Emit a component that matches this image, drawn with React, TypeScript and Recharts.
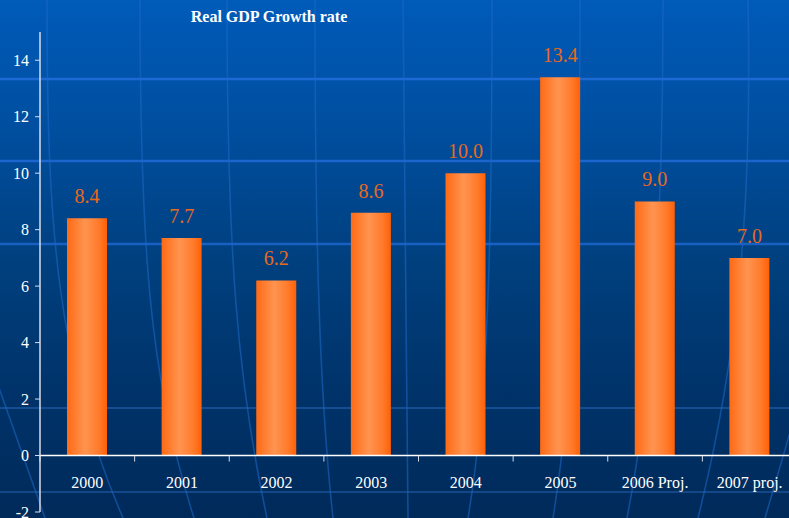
import { Bar, BarChart, LabelList, ReferenceLine, XAxis, YAxis } from "recharts";

const YEARS = ["2000", "2001", "2002", "2003", "2004", "2005", "2006 Proj.", "2007 proj."];
const GROWTH = [8.4, 7.7, 6.2, 8.6, 10.0, 13.4, 9.0, 7.0];
const Y_TICKS = [-2, 0, 2, 4, 6, 8, 10, 12, 14];
const Y_DOMAIN: [number, number] = [-2, 15];

const SERIF = "'Liberation Serif', 'Times New Roman', serif";

// chart geometry (layout only)
const CHART_W = 797;
const CHART_H = 530;
const PLOT_LEFT = 40;
const PLOT_TOP = 32;
const PLOT_BOTTOM = 512;
const X_AXIS_H = 2;
const ZERO_Y = PLOT_TOP + ((PLOT_BOTTOM - PLOT_TOP) * Y_DOMAIN[1]) / (Y_DOMAIN[1] - Y_DOMAIN[0]);
const BAND = (CHART_W - PLOT_LEFT) / YEARS.length;

// decorative backdrop: globe meridians and horizontal bands
const MERIDIANS = [
  "M -25 320 Q 10 420 45 518",
  "M 47 0 C 47 220, 55 360, 123 518",
  "M 140 0 C 140 250, 150 380, 194 518",
  "M 227 0 C 227 250, 237 380, 267 518",
  "M 315 0 C 315 250, 320 400, 333 518",
  "M 403 0 L 408 518",
  "M 492 0 C 492 250, 488 400, 468 518",
  "M 580 0 C 580 250, 572 400, 553 518",
  "M 663 0 C 663 250, 650 400, 627 518",
  "M 748 0 C 752 200, 740 350, 698 518",
  "M 830 290 Q 800 400 765 518",
];
const BANDS = [
  { y: 79, c: "#1c6bd4", w: 2.5 },
  { y: 161, c: "#1a66cc", w: 2.5 },
  { y: 244, c: "#1860c2", w: 2.5 },
  { y: 408, c: "#134d92", w: 2 },
  { y: 492, c: "#124888", w: 2 },
];

const data = YEARS.map((year, i) => ({ year, value: GROWTH[i] }));

function YearTick({ x, payload }: any) {
  return (
    <g>
      <line x1={x - BAND / 2} y1={ZERO_Y} x2={x - BAND / 2} y2={ZERO_Y + 6} stroke="#d8dde8" strokeWidth={1} />
      <text x={x} y={ZERO_Y + 32} textAnchor="middle" fill="#ffffff" fontSize={16} fontFamily={SERIF}>
        {payload.value}
      </text>
    </g>
  );
}

export default function App() {
  return (
    <div
      style={{
        position: "fixed",
        top: 0,
        left: 0,
        width: 789,
        height: 518,
        overflow: "hidden",
        background: "linear-gradient(to bottom, #005bb9 0%, #004e9f 25%, #00407f 50%, #00336a 75%, #002a5a 100%)",
      }}
    >
      <svg width={789} height={518} style={{ position: "absolute", top: 0, left: 0 }}>
        {BANDS.map((b) => (
          <line key={b.y} x1={0} x2={789} y1={b.y} y2={b.y} stroke={b.c} strokeWidth={b.w} />
        ))}
        {MERIDIANS.map((d, i) => (
          <path key={i} d={d} fill="none" stroke="#1d6ac6" strokeOpacity={0.55} strokeWidth={1.6} />
        ))}
      </svg>
      <div
        style={{
          position: "absolute",
          top: 8,
          left: 169,
          width: 200,
          textAlign: "center",
          color: "#ffffff",
          fontFamily: SERIF,
          fontWeight: "bold",
          fontSize: 16,
        }}
      >
        Real GDP Growth rate
      </div>
      <div style={{ position: "absolute", top: 0, left: 0 }}>
        <BarChart
          width={CHART_W}
          height={CHART_H}
          data={data}
          margin={{ top: PLOT_TOP, right: 0, bottom: CHART_H - PLOT_BOTTOM - X_AXIS_H, left: 0 }}
        >
          <defs>
            <linearGradient id="barGrad" x1="0" y1="0" x2="1" y2="0">
              <stop offset="0%" stopColor="#ff6a14" />
              <stop offset="45%" stopColor="#ff9450" />
              <stop offset="80%" stopColor="#ff7a2a" />
              <stop offset="100%" stopColor="#ff6005" />
            </linearGradient>
          </defs>
          <XAxis
            dataKey="year"
            height={X_AXIS_H}
            axisLine={false}
            tickLine={false}
            tick={(props: any) => <YearTick {...props} />}
            interval={0}
          />
          <YAxis
            domain={Y_DOMAIN}
            ticks={Y_TICKS}
            allowDataOverflow
            width={PLOT_LEFT}
            tickSize={5}
            tickMargin={6}
            axisLine={{ stroke: "#d8dde8", strokeWidth: 1.5 }}
            tickLine={{ stroke: "#d8dde8" }}
            tick={{ fill: "#ffffff", fontSize: 16, fontFamily: SERIF }}
          />
          <ReferenceLine y={0} stroke="#ffffff" strokeWidth={1.5} />
          <Bar dataKey="value" barSize={40} fill="url(#barGrad)" isAnimationActive={false}>
            <LabelList
              dataKey="value"
              position="top"
              offset={15}
              formatter={(v: any) => Number(v).toFixed(1)}
              fill="#e8691c"
              fontSize={20}
              fontFamily={SERIF}
            />
          </Bar>
        </BarChart>
      </div>
    </div>
  );
}
